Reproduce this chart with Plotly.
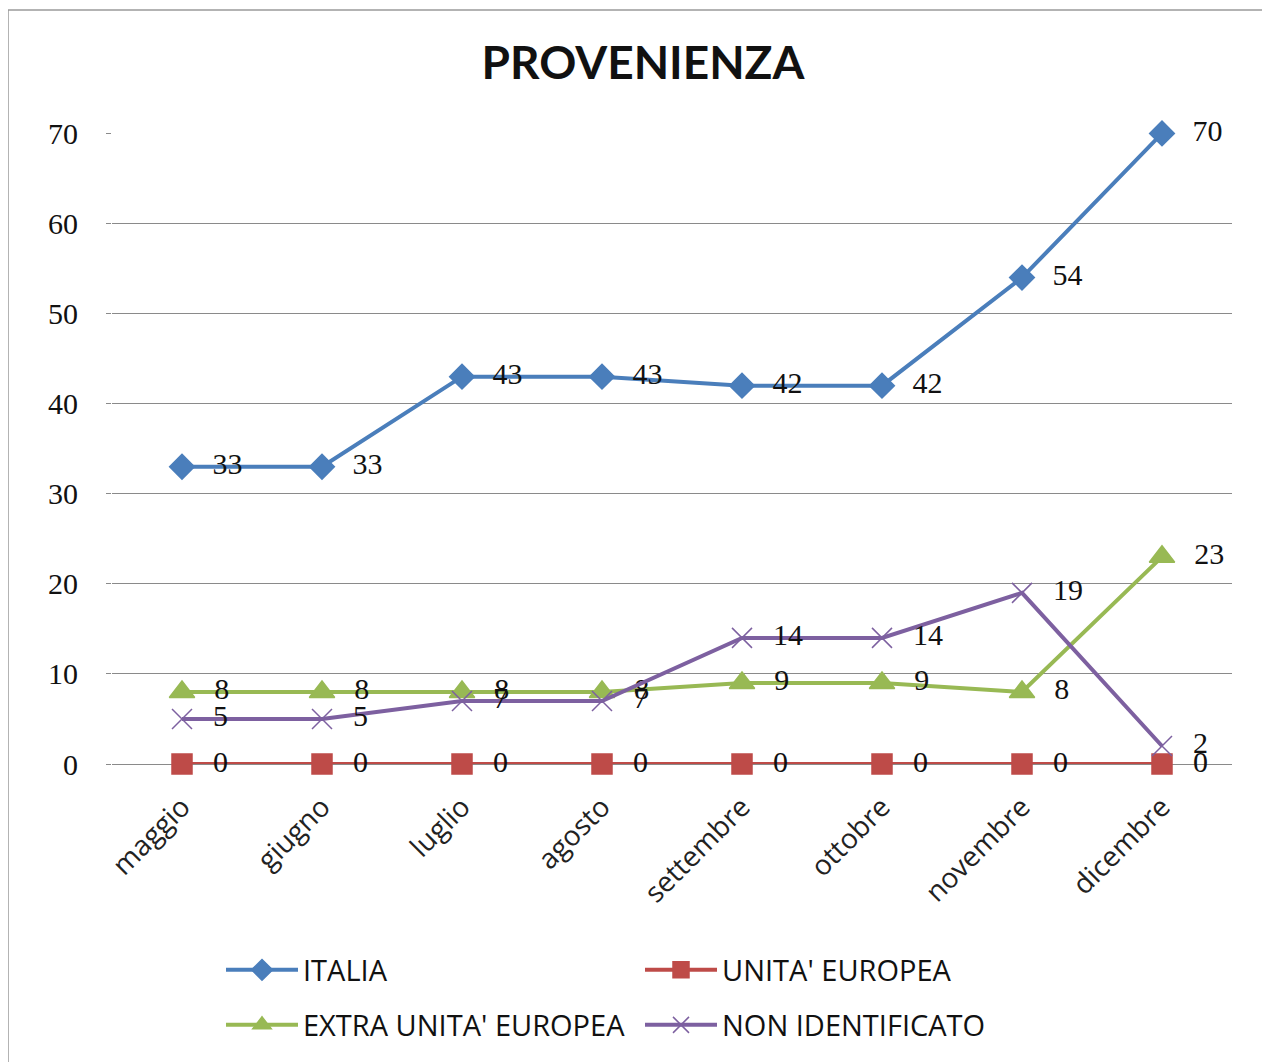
import plotly.graph_objects as go

months = ["maggio", "giugno", "luglio", "agosto", "settembre", "ottobre", "novembre", "dicembre"]
italia = [33, 33, 43, 43, 42, 42, 54, 70]
unita_europea = [0, 0, 0, 0, 0, 0, 0, 0]
extra_ue = [8, 8, 8, 8, 9, 9, 8, 23]
non_identificato = [5, 5, 7, 7, 14, 14, 19, 2]

series = [
    ("ITALIA", italia, "#4a7ebb", "diamond", 19, "legend"),
    ("UNITA' EUROPEA", unita_europea, "#be4b48", "square", 20, "legend"),
    ("EXTRA UNITA' EUROPEA", extra_ue, "#98b954", "triangle-up", 22, "legend2"),
    ("NON IDENTIFICATO", non_identificato, "#7d60a0", "x-thin-open", 20, "legend2"),
]

# page body adds an 8px offset; figure coordinates below are page coords minus 8
W, H = 1270, 1062
L, R, T, B = 104, 1224, 125, 756

def px(x):
    return (x - L) / (R - L)

def py(y):
    return (B - y) / (B - T)

fig = go.Figure()
for name, vals, color, sym, size, lg in series:
    fig.add_trace(go.Scatter(
        x=months, y=vals, name=name, mode="lines+markers+text",
        legend=lg,
        line=dict(color=color, width=4),
        marker=dict(symbol=sym, size=size, color=color,
                    line=dict(color=color, width=1.5)),
        text=[f"\u00a0\u00a0\u200a{v}" for v in vals],
        textposition="middle right",
        textfont=dict(family="Liberation Serif", size=30, color="#111111"),
        cliponaxis=False,
    ))

legend_common = dict(orientation="h", xanchor="left", yanchor="middle",
                     entrywidth=332, entrywidthmode="pixels", itemwidth=72,
                     font=dict(family="Open Sans", size=29, color="#111111"),
                     bgcolor="rgba(0,0,0,0)")

fig.update_layout(
    width=W, height=H,
    margin=dict(l=L, r=W - R, t=T, b=H - B),
    paper_bgcolor="white", plot_bgcolor="white",
    title=dict(text="<b>PROVENIENZA</b>", x=0.5, xanchor="center",
               y=1 - 55 / H, yanchor="middle",
               font=dict(family="Lato", size=46, color="#111111")),
    xaxis=dict(type="category", range=[-0.5, 7.5], tickangle=-45,
               showgrid=False, showline=False, zeroline=False, ticks="",
               ticklabelstandoff=20,
               tickfont=dict(family="Open Sans", size=28, color="#222222")),
    yaxis=dict(range=[0, 70.05], dtick=10, showgrid=True, gridcolor="#8a8a8a",
               gridwidth=1, zeroline=True, zerolinecolor="#8a8a8a", zerolinewidth=1,
               ticks="outside", ticklen=5, tickcolor="#8a8a8a",
               showline=False, ticklabelstandoff=22,
               tickfont=dict(family="Liberation Serif", size=30, color="#111111")),
    legend=dict(x=px(213), y=py(962), **legend_common),
    legend2=dict(x=px(213), y=py(1017), **legend_common),
    showlegend=True,
    shapes=[dict(type="rect", xref="paper", yref="paper",
                 x0=px(0), x1=px(1268), y0=py(1070), y1=py(2),
                 line=dict(color="#9a9a9a", width=1.5), layer="below")],
)

fig.write_html("out.html")
